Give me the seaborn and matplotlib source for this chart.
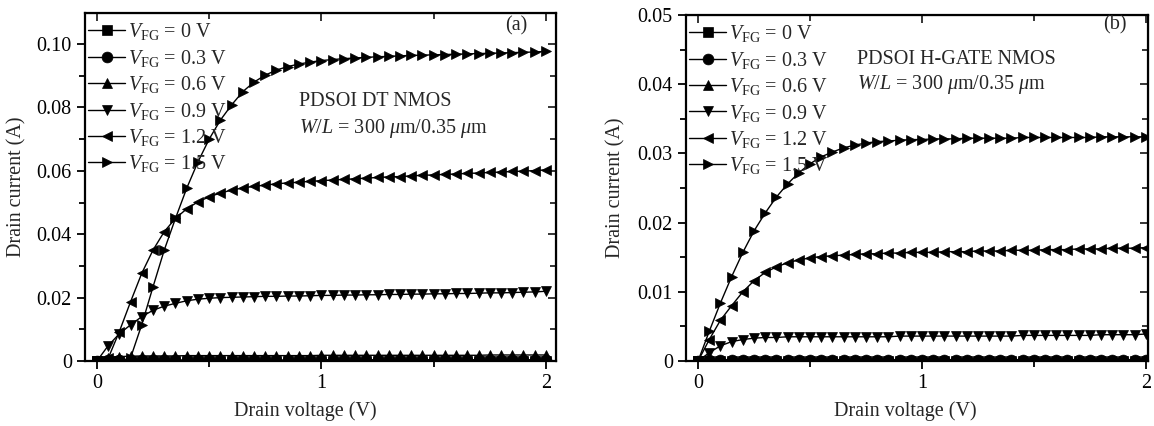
import numpy as np
import pandas as pd
import matplotlib
matplotlib.use("Agg")
import matplotlib.pyplot as plt
import seaborn as sns
from matplotlib.ticker import MultipleLocator, FuncFormatter

sns.set_style("ticks")
plt.rcParams['font.family'] = ['Liberation Serif', 'DejaVu Serif']
plt.rcParams['mathtext.fontset'] = 'custom'
plt.rcParams['mathtext.rm'] = 'Liberation Serif'
plt.rcParams['mathtext.it'] = 'Liberation Serif:italic'
plt.rcParams['mathtext.bf'] = 'Liberation Serif:bold'

# ---------------- data ----------------
vd = [0.00, 0.05, 0.10, 0.15, 0.20, 0.25, 0.30, 0.35, 0.40, 0.45, 0.50,
      0.55, 0.60, 0.65, 0.70, 0.75, 0.80, 0.85, 0.90, 0.95, 1.00,
      1.05, 1.10, 1.15, 1.20, 1.25, 1.30, 1.35, 1.40, 1.45, 1.50,
      1.55, 1.60, 1.65, 1.70, 1.75, 1.80, 1.85, 1.90, 1.95, 2.00]

vfg_labels = ["0", "0.3", "0.6", "0.9", "1.2", "1.5"]

# Panel (a): PDSOI DT NMOS
a_vfg00 = [0.0] * 41
a_vfg03 = [0.0, 0.0002, 0.0003, 0.0003, 0.0003, 0.0003, 0.0003, 0.0003, 0.0003, 0.0003, 0.0003,
           0.0003, 0.0003, 0.0003, 0.0003, 0.0003, 0.0003, 0.0003, 0.0003, 0.0003, 0.0004,
           0.0004, 0.0004, 0.0004, 0.0004, 0.0004, 0.0004, 0.0004, 0.0004, 0.0004, 0.0004,
           0.0004, 0.0004, 0.0004, 0.0004, 0.0004, 0.0004, 0.0004, 0.0004, 0.0004, 0.0004]
a_vfg06 = [0.0, 0.0010, 0.0014, 0.0015, 0.0016, 0.0016, 0.0016, 0.0016, 0.0017, 0.0017, 0.0017,
           0.0017, 0.0017, 0.0017, 0.0017, 0.0017, 0.0017, 0.0017, 0.0017, 0.0017, 0.0018,
           0.0018, 0.0018, 0.0018, 0.0018, 0.0018, 0.0018, 0.0018, 0.0018, 0.0018, 0.0018,
           0.0018, 0.0018, 0.0018, 0.0018, 0.0019, 0.0019, 0.0019, 0.0019, 0.0019, 0.0019]
a_vfg09 = [0.0, 0.0048, 0.0086, 0.0114, 0.0140, 0.0160, 0.0173, 0.0182, 0.0190, 0.0195, 0.0198,
           0.0200, 0.0201, 0.0202, 0.0203, 0.0204, 0.0204, 0.0205, 0.0205, 0.0206, 0.0207,
           0.0207, 0.0208, 0.0208, 0.0209, 0.0209, 0.0210, 0.0210, 0.0211, 0.0211, 0.0212,
           0.0212, 0.0213, 0.0213, 0.0214, 0.0215, 0.0215, 0.0216, 0.0217, 0.0218, 0.0220]
a_vfg12 = [0.0, 0.0008, 0.0093, 0.0187, 0.0277, 0.0350, 0.0408, 0.0450, 0.0480, 0.0502, 0.0518,
           0.0530, 0.0539, 0.0546, 0.0551, 0.0555, 0.0559, 0.0562, 0.0564, 0.0567, 0.0569,
           0.0571, 0.0573, 0.0575, 0.0577, 0.0579, 0.0581, 0.0582, 0.0584, 0.0586, 0.0587,
           0.0589, 0.0590, 0.0592, 0.0593, 0.0595, 0.0596, 0.0598, 0.0599, 0.0601, 0.0603]
a_vfg15 = [0.0, 0.0, 0.0, 0.0010, 0.0115, 0.0234, 0.0350, 0.0450, 0.0545, 0.0628, 0.0700,
           0.0760, 0.0808, 0.0850, 0.0880, 0.0902, 0.0918, 0.0929, 0.0937, 0.0943, 0.0948,
           0.0951, 0.0954, 0.0956, 0.0958, 0.0960, 0.0961, 0.0963, 0.0964, 0.0965, 0.0966,
           0.0967, 0.0968, 0.0969, 0.0970, 0.0971, 0.0972, 0.0973, 0.0974, 0.0975, 0.0977]

# Panel (b): PDSOI H-GATE NMOS
b_vfg00 = [0.0] * 41
b_vfg03 = [0.0, 0.0001, 0.0001, 0.0001, 0.0001, 0.0001, 0.0001, 0.0001, 0.0001, 0.0001, 0.0001,
           0.0001, 0.0001, 0.0001, 0.0001, 0.0001, 0.0001, 0.0001, 0.0001, 0.0001, 0.0001,
           0.0001, 0.0001, 0.0001, 0.0001, 0.0001, 0.0001, 0.0001, 0.0001, 0.0001, 0.0001,
           0.0001, 0.0001, 0.0001, 0.0001, 0.0001, 0.0001, 0.0001, 0.0001, 0.0001, 0.0001]
b_vfg06 = [0.0, 0.0002, 0.0002, 0.0002, 0.0002, 0.0002, 0.0002, 0.0002, 0.0002, 0.0002, 0.0002,
           0.0002, 0.0002, 0.0002, 0.0002, 0.0002, 0.0002, 0.0002, 0.0002, 0.0002, 0.0002,
           0.0002, 0.0002, 0.0002, 0.0002, 0.0002, 0.0002, 0.0002, 0.0002, 0.0002, 0.0002,
           0.0002, 0.0002, 0.0002, 0.0002, 0.0002, 0.0002, 0.0002, 0.0002, 0.0002, 0.0002]
b_vfg09 = [0.0, 0.0012, 0.0022, 0.0028, 0.0031, 0.0033, 0.0034, 0.0034, 0.0035, 0.0035, 0.0035,
           0.0035, 0.0035, 0.0035, 0.0035, 0.0035, 0.0035, 0.0035, 0.0036, 0.0036, 0.0036,
           0.0036, 0.0036, 0.0036, 0.0036, 0.0036, 0.0036, 0.0036, 0.0036, 0.0037, 0.0037,
           0.0037, 0.0037, 0.0037, 0.0037, 0.0037, 0.0038, 0.0038, 0.0038, 0.0038, 0.0039]
b_vfg12 = [0.0, 0.0031, 0.0059, 0.0080, 0.0100, 0.0116, 0.0128, 0.0136, 0.0142, 0.0146, 0.0149,
           0.0151, 0.0152, 0.0153, 0.0154, 0.0155, 0.0155, 0.0156, 0.0156, 0.0157, 0.0157,
           0.0157, 0.0158, 0.0158, 0.0158, 0.0159, 0.0159, 0.0159, 0.0160, 0.0160, 0.0160,
           0.0161, 0.0161, 0.0161, 0.0162, 0.0162, 0.0162, 0.0163, 0.0163, 0.0163, 0.0164]
b_vfg15 = [0.0, 0.0043, 0.0084, 0.0122, 0.0157, 0.0188, 0.0214, 0.0237, 0.0256, 0.0272, 0.0285,
           0.0295, 0.0302, 0.0308, 0.0312, 0.0315, 0.0317, 0.0318, 0.0319, 0.0320, 0.0320,
           0.0321, 0.0321, 0.0321, 0.0322, 0.0322, 0.0322, 0.0322, 0.0322, 0.0323, 0.0323,
           0.0323, 0.0323, 0.0323, 0.0323, 0.0323, 0.0324, 0.0324, 0.0324, 0.0324, 0.0324]

panel_a = [a_vfg00, a_vfg03, a_vfg06, a_vfg09, a_vfg12, a_vfg15]
panel_b = [b_vfg00, b_vfg03, b_vfg06, b_vfg09, b_vfg12, b_vfg15]
markers = ['s', 'o', '^', 'v', '<', '>']

FS = 14.5

fig = plt.figure(figsize=(11.54, 4.26), dpi=100)
W, H = 1154.0, 426.0
ax1 = fig.add_axes([85 / W, 1 - 361 / H, (556 - 85) / W, (361 - 13) / H])
ax2 = fig.add_axes([686 / W, 1 - 361 / H, (1148 - 686) / W, (361 - 15) / H])


def yfmt(v, pos):
    if abs(v) < 1e-12:
        return "0"
    return "%.2f" % v


def draw(ax, series, xlim, ylim, ymaj, ymin, txt1, tag, tx, ty1, ty2, tagx, tagy,
         ylab_x, xlab_x):
    for lab, vals, mk in zip(vfg_labels, series, markers):
        df = pd.DataFrame({"Vd": vd, "Id": vals})
        sns.lineplot(data=df, x="Vd", y="Id", ax=ax, color="black", lw=1.0,
                     marker=mk, markersize=7.8, markeredgecolor="black",
                     markerfacecolor="black", markeredgewidth=0.5,
                     label=r"$V_{\mathrm{FG}}$ = " + lab + " V", errorbar=None)
    ax.set_xlim(*xlim)
    ax.set_ylim(*ylim)
    ax.xaxis.set_major_locator(MultipleLocator(1))
    ax.xaxis.set_minor_locator(MultipleLocator(0.5))
    ax.yaxis.set_major_locator(MultipleLocator(ymaj))
    ax.yaxis.set_minor_locator(MultipleLocator(ymin))
    ax.yaxis.set_major_formatter(FuncFormatter(yfmt))
    ax.tick_params(which='both', direction='out', top=False, right=False,
                   labelsize=FS, width=1.3, colors='black')
    ax.tick_params(which='major', length=6)
    ax.tick_params(which='minor', length=4)
    for s in ax.spines.values():
        s.set_linewidth(1.6)
        s.set_visible(True)
        s.set_color('black')
    # mirrored inward ticks on top / right
    sx = ax.secondary_xaxis('top')
    sx.xaxis.set_major_locator(MultipleLocator(1))
    sx.xaxis.set_minor_locator(MultipleLocator(0.5))
    sx.tick_params(which='both', direction='in', labeltop=False, width=1.3)
    sx.tick_params(which='major', length=6)
    sx.tick_params(which='minor', length=4)
    sy = ax.secondary_yaxis('right')
    sy.yaxis.set_major_locator(MultipleLocator(ymaj))
    sy.yaxis.set_minor_locator(MultipleLocator(ymin))
    sy.tick_params(which='both', direction='in', labelright=False, width=1.3)
    sy.tick_params(which='major', length=6)
    sy.tick_params(which='minor', length=4)

    ax.set_xlabel("Drain voltage (V)", fontsize=FS)
    ax.set_ylabel("Drain current (A)", fontsize=FS)
    ax.xaxis.set_label_coords(xlab_x, -0.115)
    ax.yaxis.set_label_coords(ylab_x, 0.5)

    ax.legend(loc='upper left', bbox_to_anchor=(0.0, 0.985), frameon=False,
              fontsize=FS, handlelength=1.85, handletextpad=0.15,
              labelspacing=0.27, borderaxespad=0.15, borderpad=0.0)
    ax.text(tx, ty1, txt1, fontsize=FS, ha='left', va='center')
    ax.text(tx, ty2, r"$W/L$ = 300 $\mu$m/0.35 $\mu$m", fontsize=FS,
            ha='left', va='center')
    ax.text(tagx, tagy, tag, fontsize=FS, ha='center', va='center')


draw(ax1, panel_a, (-0.053, 2.045), (0, 0.1098), 0.02, 0.01,
     "PDSOI DT NMOS", "(a)", 0.90, 0.0818, 0.0735, 1.87, 0.1057, -0.125, 0.467)
draw(ax2, panel_b, (-0.054, 2.01), (0, 0.05), 0.01, 0.005,
     "PDSOI H-GATE NMOS", "(b)", 0.71, 0.0436, 0.0400, 1.86, 0.0486, -0.13, 0.474)

fig.savefig("out.png", dpi=100)
